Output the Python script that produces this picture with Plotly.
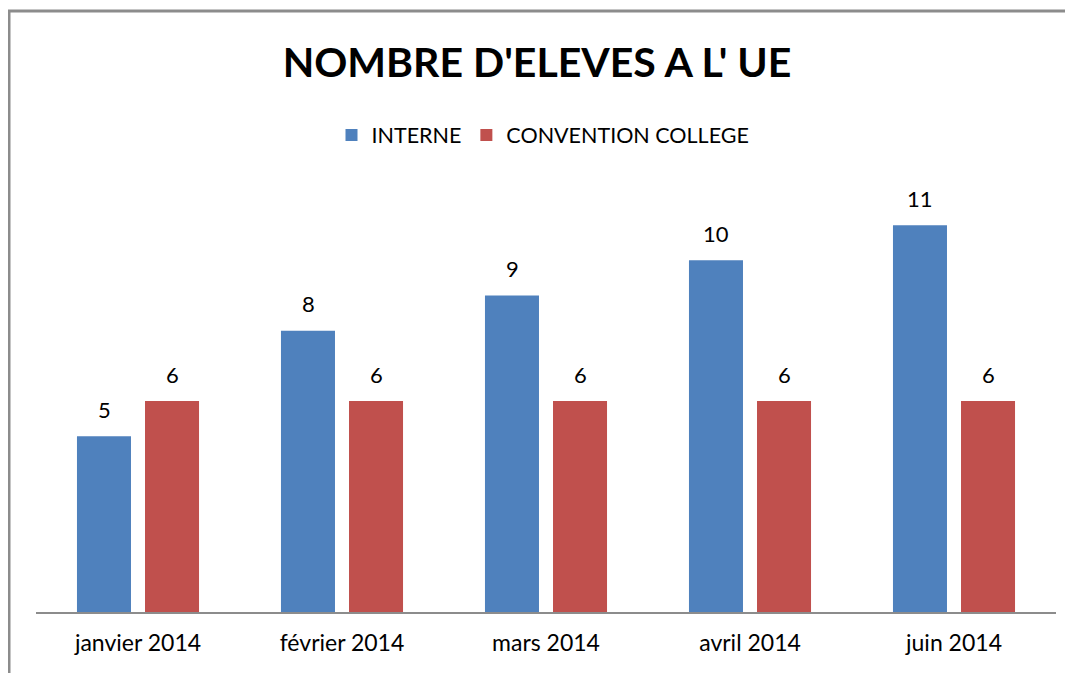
import plotly.graph_objects as go

categories = ["janvier 2014", "février 2014", "mars 2014", "avril 2014", "juin 2014"]
interne = [5, 8, 9, 10, 11]
convention = [6, 6, 6, 6, 6]
series_names = ["INTERNE", "CONVENTION COLLEGE"]
colors = ["#4F81BD", "#C0504D"]

FONT = "Lato"
OFF = 8  # page body margin
W, H = 1073 - OFF, 673 - OFF
L, R, T, B = 36 - OFF, 17, 190 - OFF, 61
pw, ph = W - L - R, H - T - B

fig = go.Figure()
for name, vals, col in zip(series_names, [interne, convention], colors):
    fig.add_trace(go.Bar(x=categories, y=vals, name=name, marker=dict(color=col, line=dict(width=0))))

annotations = []
for vals, shift in [(interne, -34), (convention, 34)]:
    for c, v in zip(categories, vals):
        annotations.append(dict(x=c, y=v, xref="x", yref="y", text=str(v), showarrow=False,
                                xshift=shift, yshift=27, yanchor="middle",
                                font=dict(family=FONT, size=22, color="#000")))

def px(x):
    return (x - OFF - L) / pw

def py(y):
    return (H - B - (y - OFF)) / ph

shapes = [dict(type="path", xref="paper", yref="paper",
               path=f"M {px(9)} {py(700)} L {px(9)} {py(11)} L {px(1100)} {py(11)}",
               line=dict(color="#8c8c8c", width=3))]

fig.update_layout(
    width=W, height=H,
    margin=dict(l=L, r=R, t=T, b=B),
    paper_bgcolor="white", plot_bgcolor="white",
    barmode="group", bargap=0.333, bargroupgap=0.206,
    title=dict(text="<b>NOMBRE D'ELEVES A L' UE</b>", x=px(537), xref="paper", xanchor="center",
               y=(H - (63 - OFF)) / H, yanchor="middle",
               font=dict(family=FONT, size=41, color="#000")),
    legend=dict(orientation="h", x=px(543), xanchor="center", xref="paper",
                y=py(135), yanchor="middle",
                font=dict(family=FONT, size=21.5, color="#000"),
                itemwidth=30, traceorder="normal"),
    xaxis=dict(showline=True, linecolor="#8c8c8c", linewidth=1.5, ticks="",
               tickfont=dict(family=FONT, size=23, color="#000"),
               ticklabelstandoff=10, showgrid=False, fixedrange=True),
    yaxis=dict(range=[0, 12], visible=False, showgrid=False, zeroline=False),
    annotations=annotations,
    shapes=shapes,
    showlegend=True,
)
fig.update_traces(cliponaxis=False)
fig.write_html("out.html")
